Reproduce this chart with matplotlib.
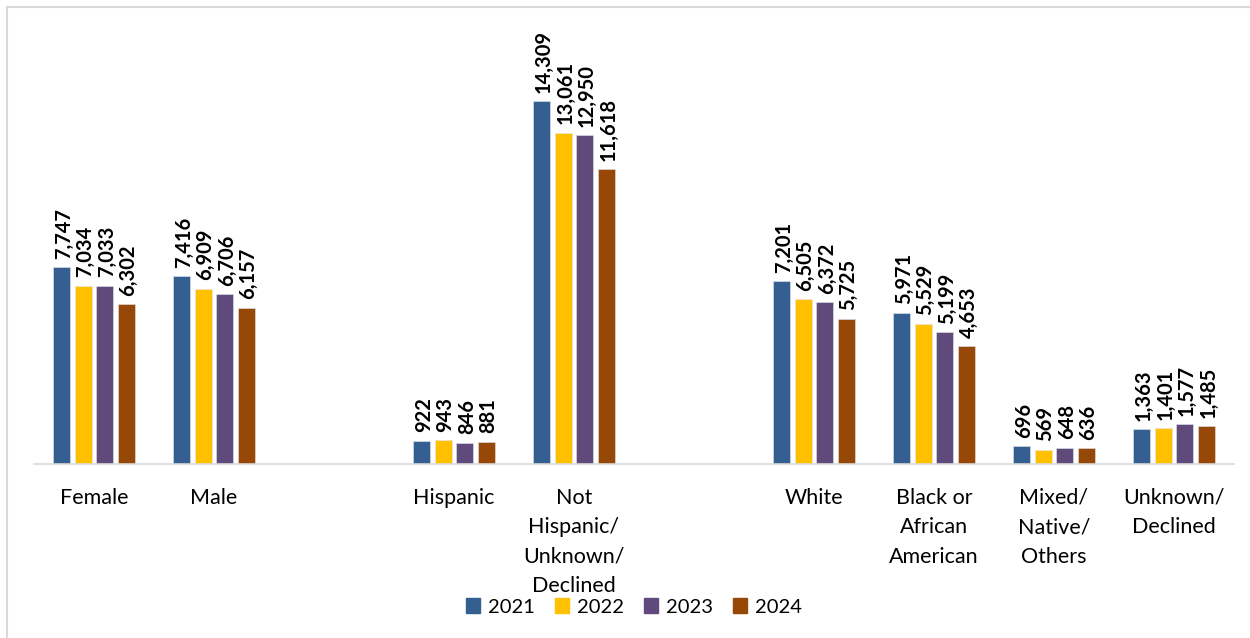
import matplotlib
matplotlib.use('Agg')
from matplotlib import pyplot as plt
from matplotlib.lines import Line2D
import numpy as np

plt.rcParams['font.family'] = ['Lato', 'DejaVu Sans']

# slot positions (empty slots 2 and 5 make the group gaps)
slots = [0, 1, 3, 4, 6, 7, 8, 9]
cats = ['Female', 'Male', 'Hispanic', 'Not\nHispanic/\nUnknown/\nDeclined',
        'White', 'Black or\nAfrican\nAmerican', 'Mixed/\nNative/\nOthers',
        'Unknown/\nDeclined']
years = ['2021', '2022', '2023', '2024']
v2021 = [7747, 7416, 922, 14309, 7201, 5971, 696, 1363]
v2022 = [7034, 6909, 943, 13061, 6505, 5529, 569, 1401]
v2023 = [7033, 6706, 846, 12950, 6372, 5199, 648, 1577]
v2024 = [6302, 6157, 881, 11618, 5725, 4653, 636, 1485]
colors = ['#365F91', '#FFC000', '#604A7B', '#974706']

fig = plt.figure(figsize=(12.5, 6.38), dpi=100)
ax = fig.add_axes([34 / 1250, (638 - 464) / 638, 1200 / 1250, 454 / 638])

x = np.array(slots, dtype=float)
w = 0.142
step = 0.18
for i, (vals, col) in enumerate(zip([v2021, v2022, v2023, v2024], colors)):
    xs = x + (i - 1.5) * step
    ax.bar(xs, vals, width=w, color=col, edgecolor='#dfe6ee', linewidth=0.4,
           label=years[i], zorder=2)
    for xi, v in zip(xs, vals):
        ax.annotate(f'{v:,}', (xi, v), xytext=(1.5, 6), textcoords='offset points',
                    rotation=90, ha='center', va='bottom', fontsize=14.5,
                    fontweight='bold', color='black')

ax.set_xlim(-0.5, 9.5)
ax.set_ylim(0, 17895)
ax.set_yticks([])
ax.set_xticks(x)
ax.set_xticklabels(cats, fontsize=15.5, linespacing=1.6, va='top')
ax.tick_params(axis='x', length=0, pad=17)
for s in ['top', 'right', 'left']:
    ax.spines[s].set_visible(False)
ax.spines['bottom'].set_color('#D9D9D9')
ax.spines['bottom'].set_linewidth(1.2)

handles = [plt.Rectangle((0, 0), 1, 1, color=c) for c in colors]
fig.legend(handles, years, loc='center', bbox_to_anchor=(634 / 1250, 1 - 607 / 638),
           ncol=4, frameon=False, fontsize=14.5, handlelength=0.7, handleheight=0.7,
           handletextpad=0.4, columnspacing=1.0)

# partial border (left and top)
fig.add_artist(Line2D([7 / 1250, 7 / 1250], [0, 1 - 7 / 638], transform=fig.transFigure,
                      color='#D9D9D9', lw=1.5))
fig.add_artist(Line2D([7 / 1250, 1], [1 - 7 / 638, 1 - 7 / 638], transform=fig.transFigure,
                      color='#D9D9D9', lw=1.5))

fig.savefig('out.png', dpi=100)
